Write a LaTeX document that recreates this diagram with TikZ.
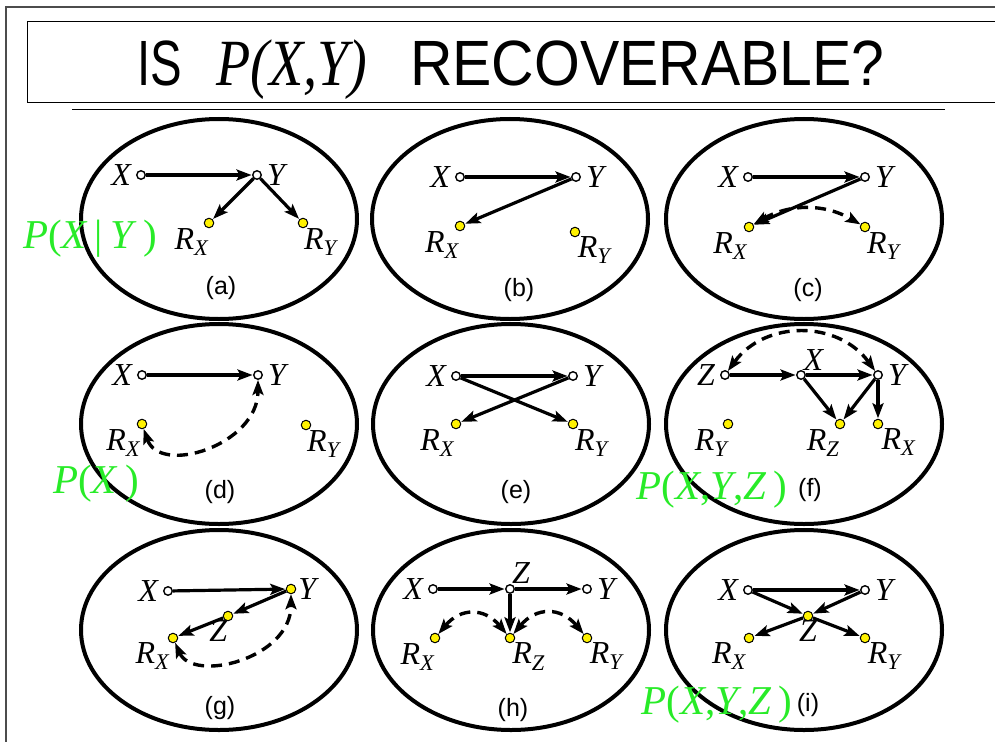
\documentclass[tikz,border=0pt]{standalone}
\usepackage{fontspec}
\setmainfont{Liberation Serif}
\setsansfont{Liberation Sans}
\usetikzlibrary{arrows.meta,shapes.geometric,positioning}
\definecolor{probgreen}{RGB}{40,235,40}
\newcommand{\Rs}[1]{R\textsubscript{#1}}

\begin{document}
\begin{tikzpicture}[x=1pt,y=-1pt,>={Stealth[length=15pt,width=11pt,inset=3pt]},
        dep/.style={->,line width=3.2pt,shorten >=0.5pt},
        bidir/.style={<->,line width=3.4pt,dash pattern=on 11pt off 7pt},
        panel/.style={ellipse,draw,line width=4pt,minimum width=276pt,minimum height=200pt,inner sep=0pt},
        main node/.style={circle,draw,fill=white,inner sep=0pt,minimum size=8.5pt,line width=1.4pt},
        ind node/.style={circle,draw,fill=yellow,inner sep=0pt,minimum size=9.5pt,line width=1pt},
        var/.style={font=\fontsize{32}{34}\selectfont\itshape,inner sep=1pt,label distance=4pt},
        rvar/.style={font=\fontsize{32}{34}\selectfont\itshape,inner sep=0pt,label distance=0pt},
        tag/.style={font=\sffamily\fontsize{25}{28}\selectfont},
        prob/.style={text=probgreen,font=\fontsize{41}{44}\selectfont},
        headline/.style={font=\sffamily\fontsize{64}{70}\selectfont,inner sep=0pt,anchor=base west}]

    \useasboundingbox (0,0) rectangle (995,741);

    % frame and title

    \draw[line width=1.2pt,black!70] (1000,7) -- (6,7) -- (6,745);
    \draw[line width=1pt] (1000,22) -- (27,22) -- (27,103) -- (1000,103);
    \draw[line width=0.8pt] (72,109) -- (945,109);
    \node[headline] (tis) at (137,86) {\scalebox{0.74}[1]{IS}};
    \node[headline,font=\fontsize{66}{70}\selectfont\itshape] (tp) at (216,86) {\scalebox{0.85}[1]{P(X,Y)}};
    \node[headline] (trec) at (410,86) {\scalebox{0.92}[1]{RECOVERABLE?}};

    % Panels

    \foreach \p/\x/\y/\tx/\ty in {a/219/219/221/288, b/510/219/519/290, c/804/219/808/290,
                                  d/219/424/220/492, e/511/424/516/492, f/804/424/810/490,
                                  g/219/630/220/708, h/511/630/513/710, i/804/630/808/705} {
        \node[panel] (e\p) at (\x,\y) {};
        \node[tag] (t\p) at (\tx,\ty) {(\p)};
    }

    % (a)

    \begin{scope}[shift={(219,219)}]
        \node[main node,label={[var]left:X}] (aX) at (-78,-44) {};
        \node[main node,label={[var]right:Y}] (aY) at (38,-44) {};
        \node[ind node,label={[rvar]-95:\Rs{X}}] (aRX) at (-10,4) {};
        \node[ind node,label={[rvar]-80:\Rs{Y}}] (aRY) at (84,4) {};
        \path (aX) edge[dep] (aY)
              (aY) edge[dep] (aRX)
              (aY) edge[dep] (aRY);
    \end{scope}
    \node[prob] (pa) at (90,239) {\textit{P}(\textit{X}\,|\,\textit{Y}\,)};

    % (b)

    \begin{scope}[shift={(510,219)}]
        \node[main node,label={[var]left:X}] (bX) at (-50,-42) {};
        \node[main node,label={[var]right:Y}] (bY) at (66,-42) {};
        \node[ind node,label={[rvar]-100:\Rs{X}}] (bRX) at (-50,7) {};
        \node[ind node,label={[rvar]-60:\Rs{Y}}] (bRY) at (65,13) {};
        \path (bX) edge[dep] (bY)
              (bY) edge[dep] (bRX);
    \end{scope}

    % (c)

    \begin{scope}[shift={(804,219)}]
        \node[main node,label={[var]left:X}] (cX) at (-56,-42) {};
        \node[main node,label={[var]right:Y}] (cY) at (61,-42) {};
        \node[ind node,label={[rvar]-110:\Rs{X}}] (cRX) at (-55,8) {};
        \node[ind node,label={[rvar]-70:\Rs{Y}}] (cRY) at (61,8) {};
        \path (cX) edge[dep] (cY)
              (cY) edge[dep] (cRX)
              (cRX) edge[bidir,bend left=30] (cRY);
    \end{scope}

    % (d)

    \begin{scope}[shift={(219,424)}]
        \node[main node,label={[var]left:X}] (dX) at (-77,-49) {};
        \node[main node,label={[var]right:Y}] (dY) at (39,-49) {};
        \node[ind node,label={[rvar]-110:\Rs{X}}] (dRX) at (-77,0) {};
        \node[ind node,label={[rvar]-80:\Rs{Y}}] (dRY) at (87,1) {};
        \path (dX) edge[dep] (dY);
        \draw[bidir] (dRX) .. controls +(18,52) and +(0,70) .. (dY);
    \end{scope}
    \node[prob] (pd) at (96,484) {\textit{P}(\textit{X}\,)};

    % (e)

    \begin{scope}[shift={(511,424)}]
        \node[main node,label={[var]left:X}] (eX) at (-55,-48) {};
        \node[main node,label={[var]right:Y}] (eY) at (62,-48) {};
        \node[ind node,label={[rvar]-110:\Rs{X}}] (eRX) at (-55,0) {};
        \node[ind node,label={[rvar]-70:\Rs{Y}}] (eRY) at (62,0) {};
        \path (eX) edge[dep] (eY)
              (eX) edge[dep] (eRY)
              (eY) edge[dep] (eRX);
    \end{scope}

    % (f)

    \begin{scope}[shift={(804,424)}]
        \node[main node,label={[var]left:Z}] (fZ) at (-79,-49) {};
        \node[main node,label={[var,label distance=-1pt]70:X}] (fX) at (-3,-49) {};
        \node[main node,label={[var]right:Y}] (fY) at (74,-49) {};
        \node[ind node,label={[rvar]-95:\Rs{Y}}] (fRY) at (-76,0) {};
        \node[ind node,label={[rvar]-95:\Rs{Z}}] (fRZ) at (36,0) {};
        \node[ind node,label={[rvar]-50:\Rs{X}}] (fRX) at (74,0) {};
        \path (fZ) edge[dep] (fX)
              (fX) edge[dep] (fY)
              (fX) edge[dep] (fRZ)
              (fY) edge[dep] (fRZ)
              (fY) edge[dep] (fRX);
        \draw[bidir] (fZ) .. controls +(40,-55) and +(-40,-55) .. (fY);
    \end{scope}
    \node[prob] (pf) at (712,490) {\textit{P}(\textit{X},\textit{Y},\textit{Z}\,)};

    % (g)

    \begin{scope}[shift={(219,630)}]
        \node[main node,label={[var]left:X}] (gX) at (-51,-39) {};
        \node[ind node,label={[var,label distance=1pt]right:Y}] (gY) at (72,-41) {};
        \node[ind node,label={[rvar,label distance=-1pt]-100:Z}] (gZ) at (9,-14) {};
        \node[ind node,label={[rvar]-130:\Rs{X}}] (gRX) at (-46,8) {};
        \path (gX) edge[dep] (gY)
              (gY) edge[dep] (gZ)
              (gZ) edge[dep] (gRX);
        \draw[bidir] (gRX) .. controls +(20,45) and +(0,70) .. (gY);
    \end{scope}

    % (h)

    \begin{scope}[shift={(511,630)}]
        \node[main node,label={[var]left:X}] (hX) at (-78,-41) {};
        \node[main node,label={[var,label distance=-1pt]75:Z}] (hZ) at (-1,-41) {};
        \node[main node,label={[var]right:Y}] (hY) at (76,-41) {};
        \node[ind node,label={[rvar]-95:\Rs{X}}] (hRX) at (-76,8) {};
        \node[ind node,label={[rvar]-65:\Rs{Z}}] (hRZ) at (-1,8) {};
        \node[ind node,label={[rvar]-60:\Rs{Y}}] (hRY) at (76,8) {};
        \path (hX) edge[dep] (hZ)
              (hZ) edge[dep] (hY)
              (hZ) edge[dep] (hRZ)
              (hRX) edge[bidir,bend left=50,looseness=1.3] (hRZ)
              (hRZ) edge[bidir,bend left=50,looseness=1.3] (hRY);
    \end{scope}

    % (i)

    \begin{scope}[shift={(804,630)}]
        \node[main node,label={[var]left:X}] (iX) at (-56,-40) {};
        \node[main node,label={[var]right:Y}] (iY) at (61,-40) {};
        \node[ind node,label={[rvar,label distance=-1pt]-90:Z}] (iZ) at (4,-14) {};
        \node[ind node,label={[rvar]-125:\Rs{X}}] (iRX) at (-55,8) {};
        \node[ind node,label={[rvar]-60:\Rs{Y}}] (iRY) at (61,8) {};
        \path (iX) edge[dep] (iY)
              (iX) edge[dep] (iZ)
              (iY) edge[dep] (iZ)
              (iZ) edge[dep] (iRX)
              (iZ) edge[dep] (iRY);
    \end{scope}
    \node[prob] (pi) at (717,705) {\textit{P}(\textit{X},\textit{Y},\textit{Z}\,)};

\end{tikzpicture}
\end{document}
